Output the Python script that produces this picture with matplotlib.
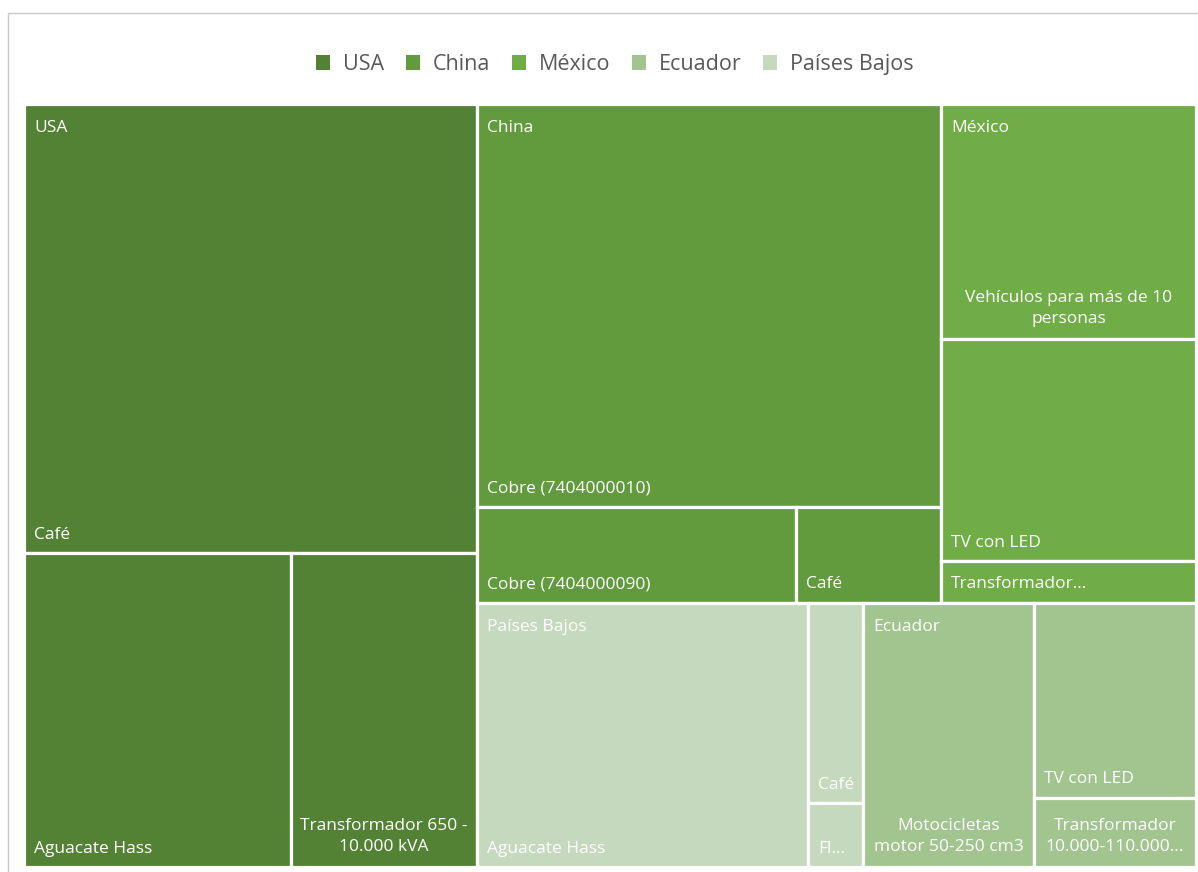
import matplotlib
matplotlib.use("Agg")
import matplotlib.pyplot as plt
from matplotlib.patches import Rectangle, Patch

plt.rcParams['font.family'] = ['Open Sans', 'DejaVu Sans']

# export value per destination and product (same units throughout)
countries = ['USA', 'China', 'México', 'Ecuador', 'Países Bajos']
colors = ['#548235', '#629a3e', '#70ad47', '#a2c590', '#c5d9be']

usa_items = ['Café', 'Aguacate Hass', 'Transformador 650 -\n10.000 kVA']
usa_vals = [203.6, 83.7, 58.3]
china_items = ['Cobre (7404000010)', 'Cobre (7404000090)', 'Café']
china_vals = [187.0, 30.6, 13.9]
mexico_items = ['Vehículos para más de 10\npersonas', 'TV con LED', 'Transformador...']
mexico_vals = [59.9, 56.6, 10.7]
ecuador_items = ['Motocicletas\nmotor 50-250 cm3', 'TV con LED', 'Transformador\n10.000-110.000...']
ecuador_vals = [45.1, 31.6, 11.2]
pb_items = ['Aguacate Hass', 'Café', 'Fl...']
pb_vals = [87.4, 11.0, 3.5]

groups = {
    'USA': (usa_items, usa_vals),
    'China': (china_items, china_vals),
    'México': (mexico_items, mexico_vals),
    'Ecuador': (ecuador_items, ecuador_vals),
    'Países Bajos': (pb_items, pb_vals),
}


def worst(row, side):
    s = sum(row)
    return max(max(side * side * r / (s * s), (s * s) / (side * side * r)) for r in row)


def squarify(areas, x, y, w, h):
    # squarified treemap; y grows downwards
    rects = []
    vals = list(areas)
    while vals:
        side = min(w, h)
        row = [vals[0]]
        i = 1
        while i < len(vals) and worst(row + [vals[i]], side) <= worst(row, side):
            row.append(vals[i])
            i += 1
        s = sum(row)
        if w >= h:
            cw = s / h
            yy = y
            for v in row:
                rects.append((x, yy, cw, v / cw))
                yy += v / cw
            x += cw
            w -= cw
        else:
            rh = s / w
            xx = x
            for v in row:
                rects.append((xx, y, v / rh, rh))
                xx += v / rh
            y += rh
            h -= rh
        vals = vals[i:]
    return rects


W, H = 1172.0, 763.0
fig = plt.figure(figsize=(11.98, 8.72), dpi=100)

# container border
fig.add_artist(Rectangle((8 / 1198, -0.1), 1.2, (872 - 13) / 872 + 0.1,
                         transform=fig.transFigure, fill=False,
                         edgecolor='#c8c8c8', linewidth=1.0))

ax = fig.add_axes([24 / 1198, 5 / 872, W / 1198, H / 872])
ax.set_xlim(0, W)
ax.set_ylim(H, 0)
ax.axis('off')

# order groups by total, scale to the plot area
order = sorted(countries, key=lambda c: -sum(groups[c][1]))
totals = [sum(groups[c][1]) for c in order]
scale = W * H / sum(totals)
group_rects = squarify([t * scale for t in totals], 0, 0, W, H)

txt = dict(color='white', fontsize=12.5)
for c, (gx, gy, gw, gh) in zip(order, group_rects):
    items, vals = groups[c]
    col = colors[countries.index(c)]
    pairs = sorted(zip(items, vals), key=lambda p: -p[1])
    gs = gw * gh / sum(vals)
    cells = squarify([v * gs for _, v in pairs], gx, gy, gw, gh)
    for (name, _), (x, y, w, h) in zip(pairs, cells):
        ax.add_patch(Rectangle((x, y), w, h, facecolor=col, edgecolor='white',
                               linewidth=2.3))
        if '\n' in name:
            ax.text(x + w / 2, y + h - 30.5, name, ha='center', va='center',
                    linespacing=1.35, multialignment='center', **txt)
        else:
            ax.text(x + 10, y + h - 18.5, name, ha='left', va='center', **txt)
    ax.text(gx + 10, gy + 24.5, c, ha='left', va='center', **txt)

handles = [Patch(facecolor=col, edgecolor='none') for col in colors]
fig.legend(handles, countries, loc='center', bbox_to_anchor=(615 / 1198, 1 - 64.5 / 872),
           ncol=5, frameon=False, fontsize=15.5, labelcolor='#595959',
           handlelength=0.65, handleheight=0.65, handletextpad=0.6,
           columnspacing=1.0)

fig.savefig('out.png', dpi=100, facecolor='white')
